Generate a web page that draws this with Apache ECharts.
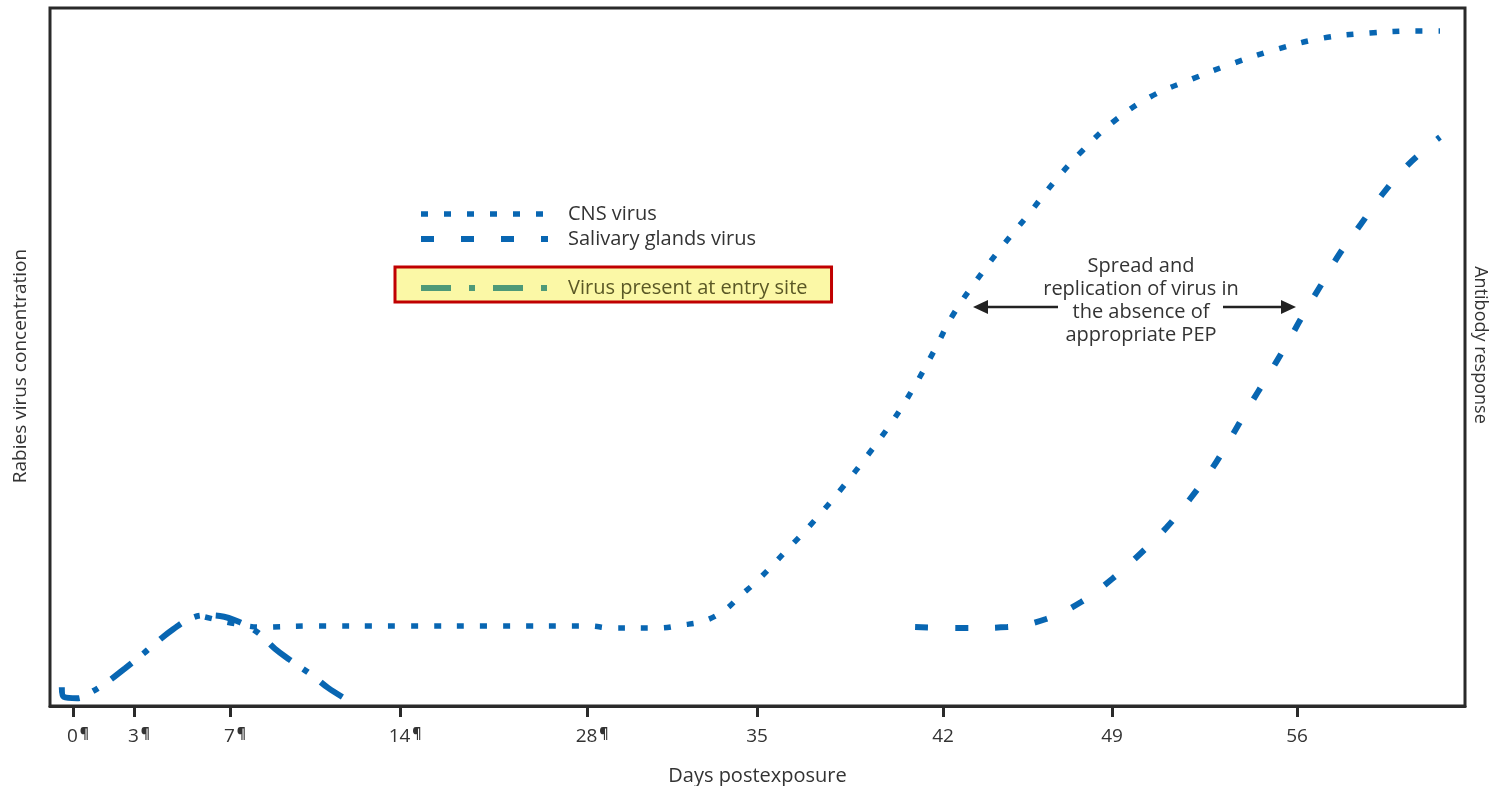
<!DOCTYPE html>
<html>
<head>
<meta charset="utf-8">
<script src="https://cdn.jsdelivr.net/npm/echarts@6/dist/echarts.min.js"></script>
<style>html,body{margin:0;padding:0;background:#fff}#c{width:1497px;height:786px}</style>
</head>
<body>
<div id="c"></div>
<script>
// ---- tick labels (days postexposure) and their layout positions along the axis ----
const tickDays   = [0, 3, 7, 14, 28, 35, 42, 49, 56];
const tickLabels = ['0¶', '3¶', '7¶', '14¶', '28¶', '35', '42', '49', '56'];
const tickPos    = [0, 2.44, 6.28, 13.08, 20.56, 27.36, 34.8, 41.56, 48.96];

// ---- series: virus present at entry site ----
const entryDays = [-0.55, -0.45, 0.2, 0.84, 1.67, 2.56, 3.42, 4.0, 4.63, 5.33, 5.96, 6.58, 7.41, 8.15, 8.85, 9.47, 10.42, 11.04, 11.82];
const entryVals = [2.7, 1.3, 1.1, 1.9, 3.4, 5.4, 7.6, 9.3, 11.0, 12.5, 13.0, 12.9, 12.0, 10.5, 8.2, 6.6, 4.3, 2.6, 0.9];

// ---- series: CNS virus ----
const cnsDays = [5.96, 7.33, 8.32, 10.17, 14, 21.5, 28.07, 29.03, 30.92, 31.91, 32.82, 33.68, 34.3, 34.96, 36.09, 37.18, 38.2, 39.17, 40.08, 40.91, 41.66, 42.41, 43.37, 44.4, 45.52, 46.6, 47.76, 49.04, 50.44, 52.03, 53.62, 55.28, 56.98, 58.76, 60.5, 61.41];
const cnsVals = [12.75, 11.7, 11.3, 11.46, 11.46, 11.46, 11.46, 11.17, 11.17, 11.6, 12.18, 13.75, 15.76, 17.77, 22.2, 26.65, 31.23, 35.96, 40.69, 45.7, 50.86, 56.02, 60.89, 65.62, 70.34, 75.07, 79.51, 83.67, 87.25, 89.83, 92.12, 94.13, 95.7, 96.42, 96.7, 96.7];

// ---- series: salivary glands virus ----
const salDays = [40.95, 42.91, 44.66, 46.27, 47.72, 49.0, 50.06, 51.08, 51.95, 52.75, 53.47, 54.15, 54.87, 55.55, 56.23, 56.91, 57.63, 58.42, 59.21, 60.12, 61.18, 61.41];
const salVals = [11.32, 11.17, 11.32, 12.46, 14.9, 18.19, 21.78, 25.64, 29.66, 33.81, 38.25, 42.69, 47.13, 51.43, 56.02, 60.32, 64.9, 69.05, 73.21, 77.22, 80.8, 81.5];

// map a day value onto the (non-uniform) axis position defined by the ticks
function toPos(d) {
  const n = tickDays.length;
  let i = 0;
  if (d <= tickDays[0]) i = 0;
  else if (d >= tickDays[n - 1]) i = n - 2;
  else { while (d > tickDays[i + 1]) i++; }
  const t = (d - tickDays[i]) / (tickDays[i + 1] - tickDays[i]);
  return tickPos[i] + t * (tickPos[i + 1] - tickPos[i]);
}
function pts(days, vals) { return days.map((d, i) => [toPos(d), vals[i]]); }

const BLUE = '#0866b2';
const FONT = 'Open Sans';
const hiddenSymbol = { color: 'rgba(0,0,0,0)', borderWidth: 0, opacity: 0 };

const chart = echarts.init(document.getElementById('c'), null, { renderer: 'canvas' });
chart.setOption({
  backgroundColor: '#ffffff',
  animation: false,
  textStyle: { fontFamily: FONT },
  grid: { left: 50, right: 32, top: 8, bottom: 80, outerBoundsMode: 'none', containLabel: false,
          show: true, borderColor: '#2a2a2a', borderWidth: 3, backgroundColor: 'transparent' },
  xAxis: {
    type: 'value', min: -0.92, max: 55.68,
    name: 'Days postexposure', nameLocation: 'middle', nameGap: 60,
    nameTextStyle: { fontFamily: FONT, fontSize: 20, color: '#333' },
    axisLine: { show: true, lineStyle: { color: '#2a2a2a', width: 3 } },
    axisTick: { show: true, customValues: tickPos, length: 11, lineStyle: { color: '#2a2a2a', width: 3 } },
    axisLabel: {
      customValues: tickPos, margin: 21, color: '#333', fontFamily: FONT, fontSize: 19,
      formatter: function (v) {
        let idx = tickPos.findIndex(p => Math.abs(p - v) < 1e-6);
        if (idx < 0) return '';
        const lab = tickLabels[idx];
        if (lab.endsWith('¶')) return '{s| }{n|' + lab.slice(0, -1) + '}{p|¶}';
        return '{n|' + lab + '}';
      },
      rich: {
        s: { width: 11 },
        n: { fontSize: 19, color: '#333', fontFamily: FONT },
        p: { width: 11, fontSize: 14, fontWeight: 'bold', color: '#333', fontFamily: FONT, padding: [0, 0, 6, 1] }
      }
    },
    splitLine: { show: false }
  },
  yAxis: {
    type: 'value', min: 0, max: 100,
    name: 'Rabies virus concentration', nameLocation: 'middle', nameGap: 20, nameRotate: 90,
    nameTextStyle: { fontFamily: FONT, fontSize: 19, color: '#333', padding: [0, 18, 0, 0] },
    axisLine: { show: false }, axisTick: { show: false }, axisLabel: { show: false }, splitLine: { show: false }
  },
  legend: [
    {
      data: [
        { name: 'CNS virus', lineStyle: { width: 5.5 } },
        { name: 'Salivary glands virus', lineStyle: { width: 6 } }
      ],
      orient: 'vertical', left: 418, top: 204, padding: 0, itemGap: 5,
      itemWidth: 127, itemHeight: 14, selectedMode: false,
      itemStyle: hiddenSymbol,
      textStyle: { fontFamily: FONT, fontSize: 20, color: '#333', padding: [0, 0, 0, 15], lineHeight: 20 }
    },
    {
      data: [{ name: 'Virus present at entry site',
               lineStyle: { color: '#4e9a78', width: 6, type: [30, 18, 6, 18] },
               textStyle: { color: '#5a5826' } }],
      orient: 'vertical', left: 395, top: 267, padding: [11, 24, 4, 23],
      itemWidth: 127, itemHeight: 14, selectedMode: false,
      itemStyle: hiddenSymbol,
      backgroundColor: '#fbf8a6', borderColor: '#c00000', borderWidth: 3,
      textStyle: { fontFamily: FONT, fontSize: 20, color: '#5a5826', padding: [0, 0, 0, 15], lineHeight: 20 }
    }
  ],
  graphic: [
    { type: 'text', x: 1141, y: 255, style: { text: 'Spread and\nreplication of virus in\nthe absence of\nappropriate PEP', align: 'center', verticalAlign: 'top', fill: '#333', font: '20px "Open Sans"', lineHeight: 23 }, silent: true },
    { type: 'line', shape: { x1: 985, y1: 307, x2: 1058, y2: 307 }, style: { stroke: '#222', lineWidth: 2.5 }, silent: true },
    { type: 'polygon', shape: { points: [[973, 307], [988, 300], [988, 314]] }, style: { fill: '#222' }, silent: true },
    { type: 'line', shape: { x1: 1223, y1: 307, x2: 1283, y2: 307 }, style: { stroke: '#222', lineWidth: 2.5 }, silent: true },
    { type: 'polygon', shape: { points: [[1296, 307], [1281, 300], [1281, 314]] }, style: { fill: '#222' }, silent: true },
    { type: 'text', x: 1480, y: 345, rotation: -Math.PI / 2, style: { text: 'Antibody response', fill: '#333', font: '18px "Open Sans"', align: 'center', verticalAlign: 'middle' }, silent: true }
  ],
  series: [
    {
      name: 'Virus present at entry site', type: 'line', data: pts(entryDays, entryVals),
      smooth: 0.4, symbol: 'none', silent: true,
      lineStyle: { color: BLUE, width: 6, type: [26, 15, 6, 16], cap: 'butt' }, itemStyle: { color: BLUE }
    },
    {
      name: 'CNS virus', type: 'line', data: pts(cnsDays, cnsVals),
      smooth: 0.4, symbol: 'none', silent: true,
      lineStyle: { color: BLUE, width: 5.5, type: [7, 16], cap: 'butt' }, itemStyle: { color: BLUE }
    },
    {
      name: 'Salivary glands virus', type: 'line', data: pts(salDays, salVals),
      smooth: 0.4, symbol: 'none', silent: true,
      lineStyle: { color: BLUE, width: 6, type: [13, 27], cap: 'butt' }, itemStyle: { color: BLUE }
    }
  ]
});
</script>
</body>
</html>
